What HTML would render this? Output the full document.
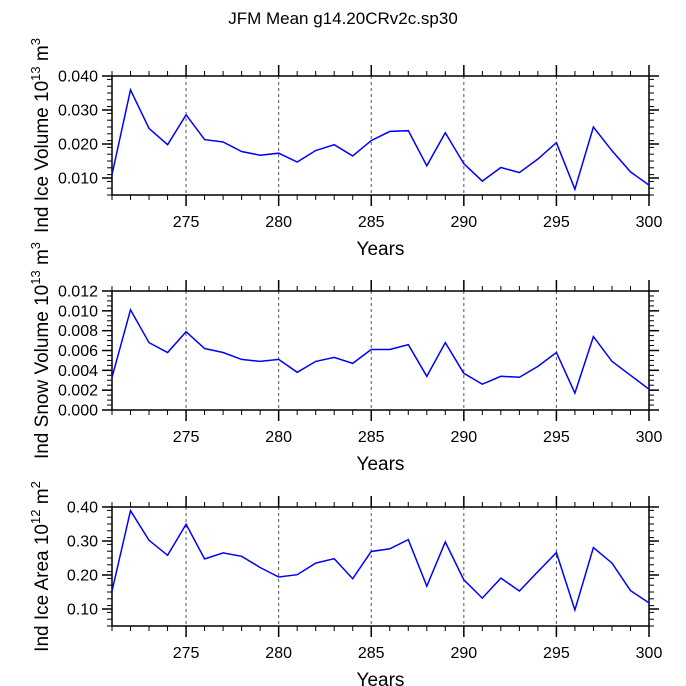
<!DOCTYPE html>
<html><head><meta charset="utf-8"><style>
html,body{margin:0;padding:0;background:#fff;}
svg{display:block;font-family:"Liberation Sans",Arial,sans-serif;}
</style></head><body>
<svg id="c" width="686" height="686" viewBox="0 0 686 686">
<text x="343" y="24" text-anchor="middle" font-size="17">JFM Mean g14.20CRv2c.sp30</text>
</svg>
<script>
const years = [271,272,273,274,275,276,277,278,279,280,281,282,283,284,285,286,287,288,289,290,291,292,293,294,295,296,297,298,299,300];
const iceVolume = [0.0110,0.0359,0.0246,0.0198,0.0286,0.0213,0.0206,0.0178,0.0167,0.0173,0.0147,0.0181,0.0198,0.0165,0.0210,0.0237,0.0239,0.0136,0.0233,0.0142,0.0091,0.0131,0.0116,0.0156,0.0204,0.0067,0.0250,0.0180,0.0118,0.0079];
const snowVolume = [0.0033,0.0101,0.0068,0.0058,0.0079,0.0062,0.0058,0.0051,0.0049,0.0051,0.0038,0.0049,0.0053,0.0047,0.0061,0.0061,0.0066,0.0034,0.0068,0.0037,0.0026,0.0034,0.0033,0.0044,0.0058,0.0017,0.0074,0.0049,0.0035,0.0021];
const iceArea = [0.153,0.389,0.302,0.258,0.349,0.247,0.265,0.255,0.222,0.194,0.201,0.235,0.248,0.189,0.269,0.277,0.304,0.167,0.297,0.186,0.132,0.191,0.153,0.210,0.266,0.097,0.281,0.235,0.154,0.118];
const xTicks = [275,280,285,290,295,300];
const yTicks1 = ["0.010","0.020","0.030","0.040"];
const yTicks2 = ["0.000","0.002","0.004","0.006","0.008","0.010","0.012"];
const yTicks3 = ["0.10","0.20","0.30","0.40"];

const NS="http://www.w3.org/2000/svg";
const svg=document.getElementById('c');
function mk(tag,attrs,parent){const e=document.createElementNS(NS,tag);for(const k in attrs)e.setAttribute(k,attrs[k]);(parent||svg).appendChild(e);return e;}
const L=112,R=649,XMIN=271,XMAX=300;
const xs=v=>L+(v-XMIN)/(XMAX-XMIN)*(R-L);

function panel(name,top,bot,ymin,ymax,ticks,minorStep,vals,labelMain,sup,unitSup){
  const g=mk('g',{});
  
  
  const ys=v=>bot-(v-ymin)/(ymax-ymin)*(bot-top);
  xTicks.forEach(t=>{if(t<XMAX){const l=mk('line',{x1:xs(t),x2:xs(t),y1:top,y2:bot,stroke:'#555','stroke-width':1,'stroke-dasharray':'3,3'},g);
    
    }});
  for(let v=XMIN;v<=XMAX;v++){const maj=v%5===0;const len=maj?11:5;
    mk('line',{x1:xs(v),x2:xs(v),y1:bot,y2:bot+len,stroke:'#000','stroke-width':maj?1.5:1},g);
    mk('line',{x1:xs(v),x2:xs(v),y1:top,y2:top-len,stroke:'#000','stroke-width':maj?1.5:1},g);}
  xTicks.forEach(t=>{const tx=mk('text',{x:xs(t),y:bot+32,'text-anchor':'middle','font-size':16},g);tx.textContent=t;
    
    });
  for(let v=ymin;v<=ymax+1e-9;v+=minorStep){const y=ys(v);
    mk('line',{x1:L,x2:L-5,y1:y,y2:y,stroke:'#000','stroke-width':1},g);
    mk('line',{x1:R,x2:R+5,y1:y,y2:y,stroke:'#000','stroke-width':1},g);}
  ticks.forEach(t=>{const y=ys(parseFloat(t));
    mk('line',{x1:L,x2:L-10,y1:y,y2:y,stroke:'#000','stroke-width':1.5},g);
    mk('line',{x1:R,x2:R+10,y1:y,y2:y,stroke:'#000','stroke-width':1.5},g);
    const tx=mk('text',{x:L-14,y:y+5.5,'text-anchor':'end','font-size':16},g);tx.textContent=t;
    
    });
  mk('rect',{x:L,y:top,width:R-L,height:bot-top,fill:'none',stroke:'#000','stroke-width':1.5},g);
  const pts=years.map((yr,i)=>xs(yr).toFixed(1)+','+ys(vals[i]).toFixed(1)).join(' ');
  const pl=mk('polyline',{points:pts,fill:'none',stroke:'#0000ff','stroke-width':1.5},g);
  
  
  const xt=mk('text',{x:(L+R)/2,y:bot+60,'text-anchor':'middle','font-size':19},g);xt.textContent='Years';
  
  
  const cy=(top+bot)/2;
  const yt=mk('text',{x:0,y:0,'text-anchor':'middle','font-size':19,transform:`translate(48,${cy}) rotate(-90)`},g);
  
  
  const t1=mk('tspan',{},yt);t1.textContent=labelMain+' 10';
  const t2=mk('tspan',{dy:-8,'font-size':13},yt);t2.textContent=sup;
  const t3=mk('tspan',{dy:8},yt);t3.textContent=' m';
  const t4=mk('tspan',{dy:-8,'font-size':13},yt);t4.textContent=unitSup;
}
panel('ice-volume',76,195,0.005,0.040,yTicks1,0.002,iceVolume,'Ind Ice Volume','13','3');
panel('snow-volume',291,410,0,0.012,yTicks2,0.0005,snowVolume,'Ind Snow Volume','13','3');
panel('ice-area',507,626,0.05,0.40,yTicks3,0.02,iceArea,'Ind Ice Area','12','2');
</script>
</body></html>
